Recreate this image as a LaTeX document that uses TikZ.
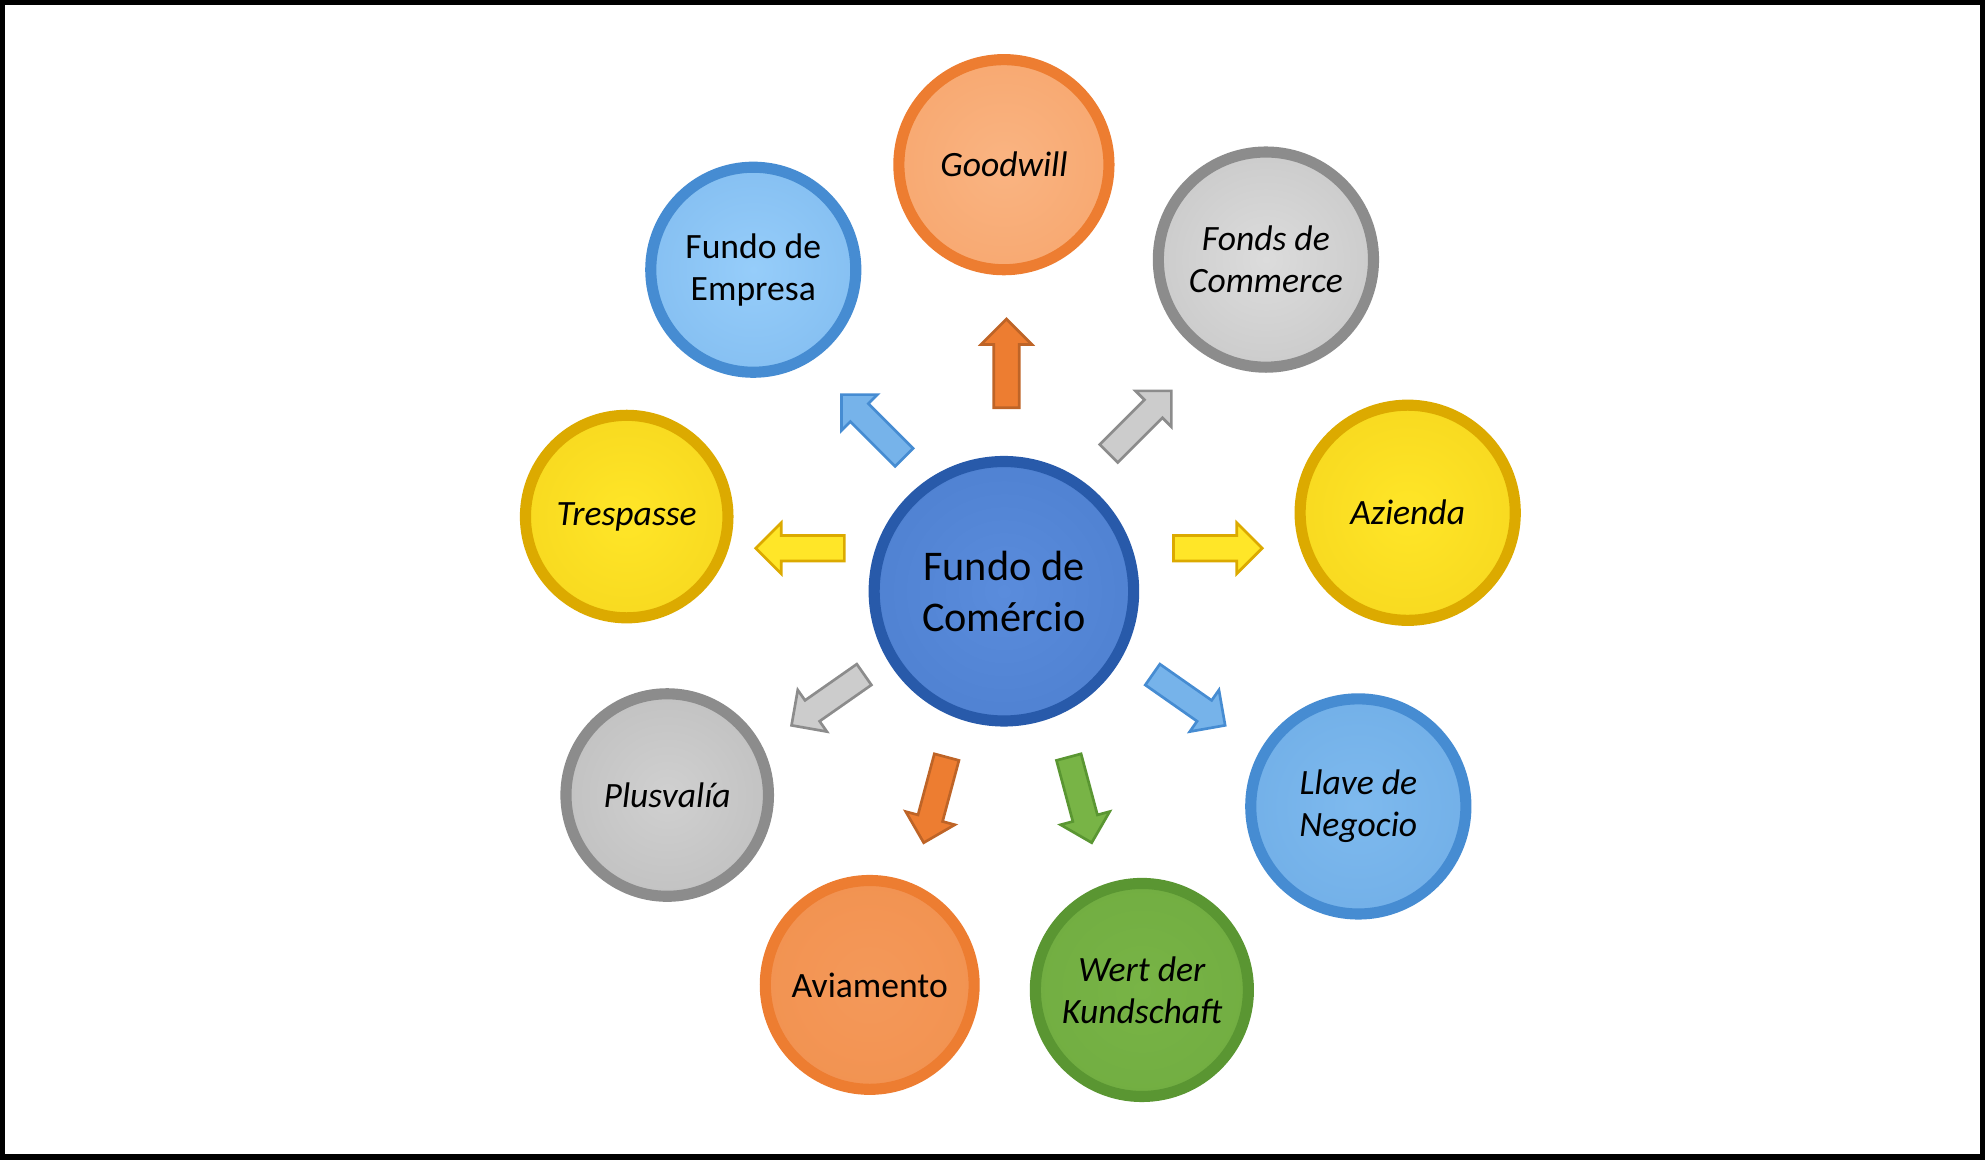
\documentclass[tikz,border=0pt]{standalone}
\usepackage{fontspec}
\setmainfont{Carlito}
\usetikzlibrary{shapes.arrows}
\definecolor{orangeO}{RGB}{237,125,49}
\definecolor{orangeI}{RGB}{250,180,130}
\definecolor{grayO}{RGB}{140,140,140}
\definecolor{grayI}{RGB}{220,220,220}
\definecolor{yellowO}{RGB}{220,170,0}
\definecolor{yellowI}{RGB}{255,230,40}
\definecolor{blueO}{RGB}{70,140,210}
\definecolor{blueI}{RGB}{150,205,250}
\definecolor{greenO}{RGB}{90,150,50}
\definecolor{greenI}{RGB}{120,180,70}
\definecolor{centerO}{RGB}{40,90,170}
\definecolor{centerI}{RGB}{90,140,220}
\tikzset{
  ball/.style 2 args={circle, draw=#1, line width=2.5pt, inner color=#2, outer color=#2!80!#1,
    align=center, font=\fontsize{8}{9.5}\selectfont},
  blk/.style n args={3}{single arrow, draw=#1, fill=#2, line width=0.6pt, minimum height=0.7cm,
    inner sep=0.09cm, single arrow head extend=0.1cm, rotate=#3}
}
\begin{document}
\begin{tikzpicture}
\draw[line width=1.2pt] (0.02,-0.02) rectangle (15.66,-9.14);
\useasboundingbox (0,0) rectangle (15.68,-9.16);
% centre
\node[ball={centerO}{centerI}, minimum size=2.05cm, font=\fontsize{9.5}{11.5}\selectfont] (fundo) at (7.93,-4.67) {Fundo de\\Comércio};
% outer
\node[ball={orangeO}{orangeI}, minimum size=1.66cm] (goodwill) at (7.93,-1.30) {\itshape Goodwill};
\node[ball={grayO}{grayI}, minimum size=1.70cm] (fonds) at (10.00,-2.05) {\itshape Fonds de\\\itshape Commerce};
\node[ball={yellowO}{yellowI}, minimum size=1.70cm] (azienda) at (11.12,-4.05) {\itshape Azienda};
\node[ball={blueO}{blueI!70!blueO}, minimum size=1.70cm] (llave) at (10.73,-6.37) {\itshape Llave de\\\itshape Negocio};
\node[ball={greenO}{greenI}, minimum size=1.68cm] (wert) at (9.02,-7.82) {\itshape Wert der\\\itshape Kundschaft};
\node[ball={orangeO}{orangeI!50!orangeO}, minimum size=1.65cm] (aviamento) at (6.87,-7.78) {Aviamento};
\node[ball={grayO}{grayI!85!grayO}, minimum size=1.60cm] (plusvalia) at (5.27,-6.28) {\itshape Plusvalía};
\node[ball={yellowO}{yellowI}, minimum size=1.60cm] (trespasse) at (4.95,-4.08) {\itshape Trespasse};
\node[ball={blueO}{blueI}, minimum size=1.62cm] (empresa) at (5.95,-2.13) {Fundo de\\Empresa};
% arrows
\node[blk={orangeO!80!black}{orangeO}{90}] (aGoodwill) at (7.95,-2.92) {};
\node[blk={grayO}{grayI!80!grayO}{45}] (aFonds) at (8.97,-3.37) {};
\node[blk={yellowO}{yellowI}{0}] (aAzienda) at (9.57,-4.33) {};
\node[blk={blueO}{blueI!60!blueO}{-35}] (aLlave) at (9.35,-5.50) {};
\node[blk={greenO}{greenI}{-75}] (aWert) at (8.52,-6.27) {};
\node[blk={orangeO!80!black}{orangeO}{-105}] (aAviamento) at (7.40,-6.27) {};
\node[blk={grayO}{grayI!80!grayO}{-145}] (aPlusvalia) at (6.58,-5.50) {};
\node[blk={yellowO}{yellowI}{180}] (aTrespasse) at (6.37,-4.33) {};
\node[blk={blueO}{blueI!60!blueO}{135}] (aEmpresa) at (6.93,-3.40) {};
\end{tikzpicture}
\end{document}
